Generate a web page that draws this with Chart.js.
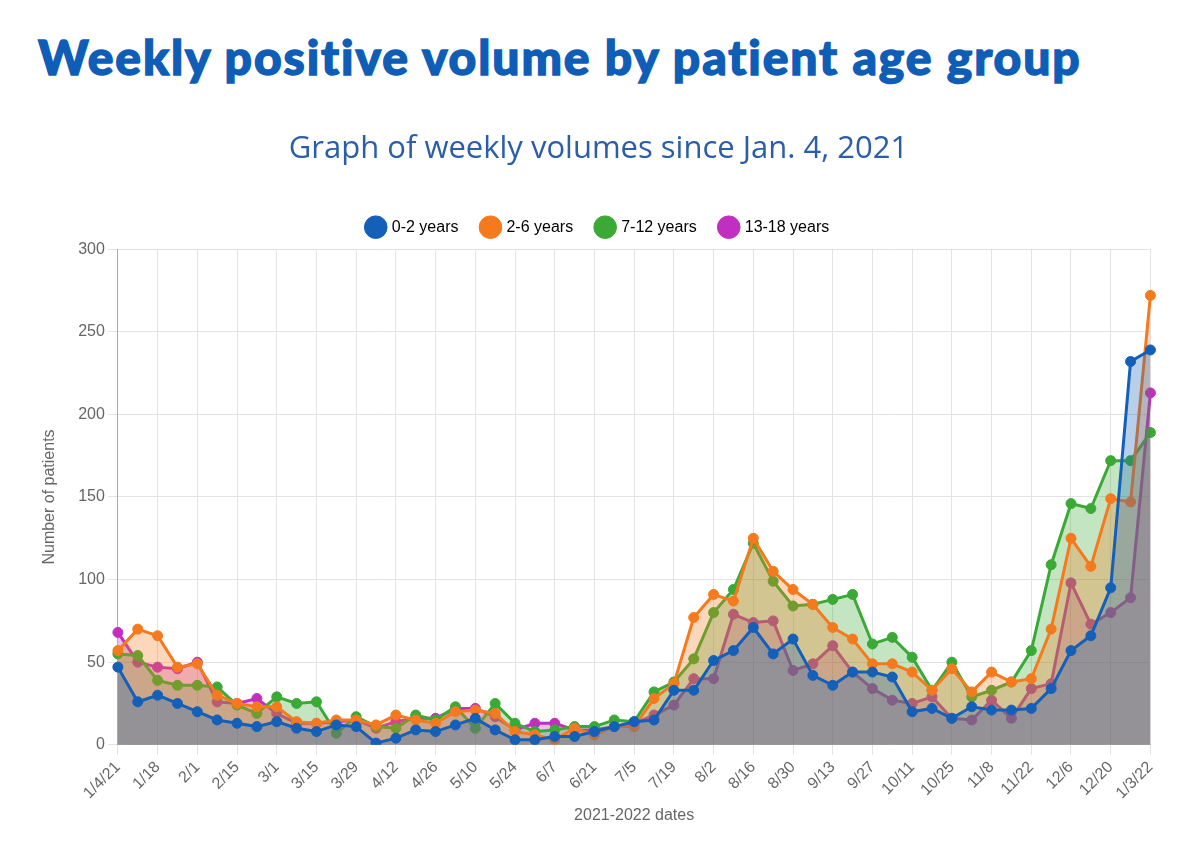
<!DOCTYPE html>
<html lang="en">
<head>
  <meta charset="UTF-8" />
  <title>Weekly positive volume by patient age group</title>
  <script src="https://cdn.jsdelivr.net/npm/chart.js"></script>
  <style>
    body { margin: 0; background: #fff; width: 1200px; height: 855px; overflow: hidden; position: relative; }
    h1 {
      position: absolute; left: 38px; top: 28px; margin: 0;
      font-family: Lato, "Open Sans", sans-serif; font-weight: 900; font-size: 48px; line-height: 1.2;
      color: #0e5db6; letter-spacing: 1.9px; white-space: nowrap;
      -webkit-text-stroke: 1.4px #0e5db6;
    }
    #wrap { position: absolute; left: 30px; top: 110px; width: 1137px; height: 719px; }
  </style>
</head>
<body>
  <h1>Weekly positive volume by patient age group</h1>
  <div id="wrap"><canvas id="volChart"></canvas></div>

  <script>
    // weekly dates, 1/4/21 .. 1/3/22
    const weeks = ['1/4/21','1/11','1/18','1/25','2/1','2/8','2/15','2/22','3/1','3/8','3/15','3/22',
      '3/29','4/5','4/12','4/19','4/26','5/3','5/10','5/17','5/24','5/31','6/7','6/14','6/21','6/28',
      '7/5','7/12','7/19','7/26','8/2','8/9','8/16','8/23','8/30','9/6','9/13','9/20','9/27','10/4',
      '10/11','10/18','10/25','11/1','11/8','11/15','11/22','11/29','12/6','12/13','12/20','12/27','1/3/22'];

    const age0to2 = [47,26,30,25,20,15,13,11,14,10,8,12,11,1,4,9,8,12,16,9,3,3,5,5,8,11,
      14,15,33,33,51,57,71,55,64,42,36,44,44,41,20,22,16,23,21,21,22,34,57,66,95,232,239];
    const age2to6 = [57,70,66,47,49,30,25,23,23,14,13,15,15,12,18,15,13,20,21,19,8,6,3,10,6,11,
      11,28,37,77,91,87,125,105,94,85,71,64,49,49,44,33,46,32,44,38,40,70,125,108,149,147,272];
    const age7to12 = [55,54,39,36,36,35,24,19,29,25,26,7,17,11,10,18,15,23,10,25,13,8,9,11,11,15,
      14,32,38,52,80,94,122,99,84,85,88,91,61,65,53,33,50,29,33,38,57,109,146,143,172,172,189];
    const age13to18 = [68,50,47,46,50,26,25,28,19,13,13,14,15,10,14,16,16,22,22,17,9,13,13,9,9,11,
      13,18,24,40,40,79,74,75,45,49,60,44,34,27,25,29,16,15,27,16,34,37,98,73,80,89,213];

    const seriesNames = ['0-2 years', '2-6 years', '7-12 years', '13-18 years'];
    const seriesColors = ['#1460b8', '#f57a1e', '#3ba936', '#c22fc0'];
    const seriesFills = ['rgba(20,96,184,0.3)', 'rgba(245,122,30,0.3)', 'rgba(59,169,54,0.3)', 'rgba(194,47,192,0.3)'];
    const yTicks = [0, 50, 100, 150, 200, 250, 300];

    const seriesData = [age0to2, age2to6, age7to12, age13to18];
    const datasets = seriesData.map((d, i) => ({
      label: seriesNames[i],
      data: d,
      borderColor: seriesColors[i],
      backgroundColor: seriesFills[i],
      pointBackgroundColor: seriesColors[i],
      pointBorderColor: seriesColors[i],
      borderWidth: 3,
      pointRadius: 5,
      pointBorderWidth: 1,
      tension: 0,
      fill: 'origin'
    }));

    // a bit more room between the legend and the plot
    const legendSpacing = {
      id: 'legendSpacing',
      beforeInit(chart) {
        const fit = chart.legend.fit;
        chart.legend.fit = function () { fit.call(this); this.height += 4; };
      }
    };

    Chart.defaults.font.family = '"Liberation Sans", Arial, sans-serif';
    Chart.defaults.font.size = 16;
    Chart.defaults.color = '#666';

    new Chart(document.getElementById('volChart'), {
      type: 'line',
      data: { labels: weeks, datasets: datasets },
      plugins: [legendSpacing],
      options: {
        responsive: true,
        maintainAspectRatio: false,
        animation: false,
        plugins: {
          title: {
            display: true,
            text: 'Graph of weekly volumes since Jan. 4, 2021',
            color: '#2a5ea8',
            font: { family: '"Open Sans", sans-serif', size: 31, weight: 'normal' },
            padding: { top: 21, bottom: 27 }
          },
          legend: {
            position: 'top',
            labels: {
              usePointStyle: true,
              pointStyle: 'circle',
              boxHeight: 16,
              padding: 24,
              color: '#666',
              generateLabels: (chart) => chart.data.datasets.map((ds, i) => ({
                text: ds.label,
                fillStyle: ds.borderColor,
                strokeStyle: ds.borderColor,
                lineWidth: 1,
                pointStyle: 'circle',
                hidden: false,
                datasetIndex: i
              }))
            }
          },
          tooltip: { enabled: false }
        },
        scales: {
          x: {
            title: { display: true, text: '2021-2022 dates', color: '#666', padding: { top: 0, bottom: 4 } },
            grid: { color: '#e3e3e3', tickLength: 10 },
            border: { color: '#bbb' },
            ticks: {
              autoSkip: false,
              minRotation: 45,
              maxRotation: 45,
              color: '#666',
              callback: function (v, i) { return i % 2 === 0 ? weeks[i] : null; }
            }
          },
          y: {
            min: 0,
            max: 300,
            title: { display: true, text: 'Number of patients', color: '#666', padding: { top: 10, bottom: 16 } },
            grid: { color: '#e3e3e3', tickLength: 10 },
            border: { color: '#aaa' },
            afterBuildTicks: (axis) => { axis.ticks = yTicks.map(v => ({ value: v })); },
            ticks: { color: '#666' }
          }
        }
      }
    });
  </script>
</body>
</html>
